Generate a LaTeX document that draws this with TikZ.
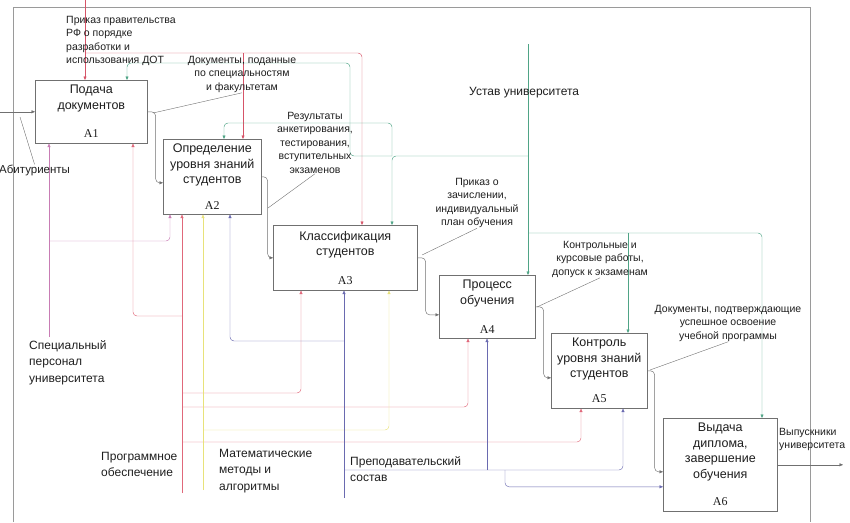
\documentclass[tikz,border=0pt]{standalone}
\usepackage{fontspec}
\setmainfont{Liberation Sans}
\newfontfamily\numfont{Liberation Serif}
\usetikzlibrary{arrows.meta, calc, positioning}
\definecolor{framegray}{HTML}{9A9A9A}
\definecolor{flowgray}{HTML}{707070}
\definecolor{ctlred}{HTML}{D65468}
\definecolor{ctlgreen}{HTML}{4FA486}
\definecolor{mechpink}{HTML}{C87CB4}
\definecolor{mechred}{HTML}{E0687A}
\definecolor{mechyellow}{HTML}{E8E27A}
\definecolor{mechblue}{HTML}{6A6AB0}
\definecolor{textdark}{HTML}{1E1E1E}
\tikzset{
  % Function blocks
  func/.style={
    draw=flowgray, fill=white, line width=0.6pt,
    anchor=north west, inner sep=0pt,
  },
  functitle/.style={
    font=\fontsize{12.5}{15.5}\selectfont, text=textdark,
    align=center, inner sep=0pt,
  },
  funcnum/.style={
    font=\numfont\fontsize{12}{12}\selectfont, text=textdark,
    inner sep=0pt,
  },
  % Arrow labels
  lbl/.style={
    font=\fontsize{10.5}{13.5}\selectfont, text=textdark,
    align=center, inner sep=0pt,
  },
  biglbl/.style={
    font=\fontsize{12}{16.5}\selectfont, text=textdark,
    align=left, inner sep=0pt,
  },
  % Connectors
  flow/.style={-{Triangle[length=3.5pt, width=3pt]}, line width=0.45pt,
               draw=#1, rounded corners=4pt},
  tilde/.style={line width=0.4pt, draw=flowgray},
}
\begin{document}
\begin{tikzpicture}[x=1pt, y=-1pt]
  \useasboundingbox (0,0) rectangle (850,522);
  \draw[framegray, line width=0.5pt] (13,522) -- (13,7) -- (810,7) -- (810,522);

  % function blocks
  \node[func, minimum width=112pt, minimum height=63pt] (a1) at (35,80) {};
  \node[func, minimum width=98pt, minimum height=75pt] (a2) at (163,139) {};
  \node[func, minimum width=144pt, minimum height=65pt] (a3) at (273,225) {};
  \node[func, minimum width=96pt, minimum height=63pt] (a4) at (439,275) {};
  \node[func, minimum width=96pt, minimum height=75pt] (a5) at (551,333) {};
  \node[func, minimum width=114pt, minimum height=93pt] (a6) at (663,418) {};

  \node[functitle, below=5pt of a1.north] (a1t) {Подача\\документов};
  \node[functitle, below=5pt of a2.north] (a2t) {Определение\\уровня знаний\\студентов};
  \node[functitle, below=6pt of a3.north] (a3t) {Классификация\\студентов};
  \node[functitle, below=5pt of a4.north] (a4t) {Процесс\\обучения};
  \node[functitle, below=5pt of a5.north] (a5t) {Контроль\\уровня знаний\\студентов};
  \node[functitle, below=5pt of a6.north] (a6t) {Выдача\\диплома,\\завершение\\обучения};
  \node[funcnum, above=6pt of a1.south] (a1n) {A1};
  \node[funcnum, above=5pt of a2.south] (a2n) {A2};
  \node[funcnum, above=6pt of a3.south] (a3n) {A3};
  \node[funcnum, above=5pt of a4.south] (a4n) {A4};
  \node[funcnum, above=6pt of a5.south] (a5n) {A5};
  \node[funcnum, above=6pt of a6.south] (a6n) {A6};

  % outputs -> inputs
  \coordinate (abit) at (0,113);
  \draw[flow=flowgray] (abit |- a1.west) -- (a1.west);
  \draw[flow=flowgray] (a1.east) -- ++(8,0) |- ($(a2.west)+(0,6)$);
  \draw[flow=flowgray] (a2.east) -- ++(6,0) |- (a3.west);
  \draw[flow=flowgray] (a3.east) -- ++(8,0) |- ($(a4.west)+(0,8)$);
  \draw[flow=flowgray] (a4.east) -- ++(8,0) |- ($(a5.west)+(0,7)$);
  \draw[flow=flowgray] (a5.east) -- ++(7,0) |- ($(a6.west)+(0,7)$);
  \coordinate (grad) at (843,463);
  \draw[flow=flowgray] (a6.east) -- (grad |- a6.east);

  % controls
  \coordinate (prk) at (85,0);
  \draw[flow=ctlred] (prk) -- (prk |- a1.north);
  \draw[flow=ctlred] (85,53) -| (362,0 |- a3.north);
  \draw[flow=ctlred] (243,53) -- (243,0 |- a2.north);

  \coordinate (ust) at (528,44);
  \draw[flow=ctlgreen] (ust) -- (ust |- a4.north);
  \draw[flow=ctlgreen] (528,156) -| (392,0 |- a3.north);
  \draw[flow=ctlgreen] (392,156) -- (392,123) -| (224,0 |- a2.north);
  \draw[flow=ctlgreen] (392,156) -- (350,156) -- (350,63) -| (127,0 |- a1.north);
  \draw[flow=ctlgreen] (528,233) -| (762,0 |- a6.north);
  \draw[flow=ctlgreen] (628,233) -- (628,0 |- a5.north);

  % mechanisms
  \coordinate (spec) at (49,337);
  \draw[flow=mechpink] (spec) -- (spec |- a1.south);
  \draw[flow=mechpink] (49,241) -| (170,0 |- a2.south);

  \coordinate (prog) at (182,493);
  \draw[flow=mechred] (prog) -- (prog |- a2.south);
  \draw[flow=mechred] (182,316) -| (133,0 |- a1.south);
  \draw[flow=mechred] (182,393) -| (301,0 |- a3.south);
  \draw[flow=mechred] (182,407) -| (468,0 |- a4.south);
  \draw[flow=mechred] (182,442) -| (581,0 |- a5.south);

  \coordinate (math) at (203,490);
  \draw[flow=mechyellow] (math) -- (math |- a2.south);
  \draw[flow=mechyellow] (203,430) -| (389,0 |- a3.south);

  \coordinate (prep) at (344,498);
  \draw[flow=mechblue] (prep) -- (prep |- a3.south);
  \draw[flow=mechblue] (344,341) -| (230,0 |- a2.south);
  \draw[flow=mechblue] (344,470) -| (623,0 |- a5.south);
  \draw[flow=mechblue] (487,470) -- (487,0 |- a4.south);
  \draw[flow=mechblue] (505,470) |- ($(a6.west)+(0,22)$);

  % labels
  \node[lbl, align=left, anchor=north west] (prkl) at (66,16)
    {Приказ правительства\\РФ о порядке\\разработки и\\использования ДОТ};
  \node[lbl, anchor=north] (docsl) at (242,56)
    {Документы, поданные\\по специальностям\\и факультетам};
  \node[lbl, anchor=north] (resl) at (315,112)
    {Результаты\\анкетирования,\\тестирования,\\вступительных\\экзаменов};
  \node[lbl, anchor=north] (zachl) at (477,178)
    {Приказ о\\зачислении,\\индивидуальный\\план обучения};
  \node[lbl, anchor=north] (kontrl) at (600,241)
    {Контрольные и\\курсовые работы,\\допуск к экзаменам};
  \node[lbl, anchor=north] (podtvl) at (728,305)
    {Документы, подтверждающие\\успешное освоение\\учебной программы};
  \node[lbl, align=left, anchor=north west] (gradl) at (779,428)
    {Выпускники\\университета};
  \node[lbl, font=\fontsize{11.5}{13.5}\selectfont, anchor=west] (abitl) at (-1,170) {Абитуриенты};
  \node[biglbl, anchor=west] (ustl) at (469,93) {Устав университета};
  \node[biglbl, anchor=north west] (specl) at (29,340)
    {Специальный\\персонал\\университета};
  \node[biglbl, anchor=north west] (progl) at (101,452)
    {Программное\\обеспечение};
  \node[biglbl, anchor=north west] (mathl) at (219,449)
    {Математические\\методы и\\алгоритмы};
  \node[biglbl, anchor=north west] (prepl) at (350,456)
    {Преподавательский\\состав};

  % label leaders
  \draw[tilde] (abitl.north) -- (20,117);
  \draw[tilde] (docsl.south) -- (153,113);
  \draw[tilde] (resl.south) -- (268,208);
  \draw[tilde] (zachl.south) -- (422,255);
  \draw[tilde] (kontrl.south) -- (537,307);
  \draw[tilde] (podtvl.south) -- (650,370);
\end{tikzpicture}
\end{document}
